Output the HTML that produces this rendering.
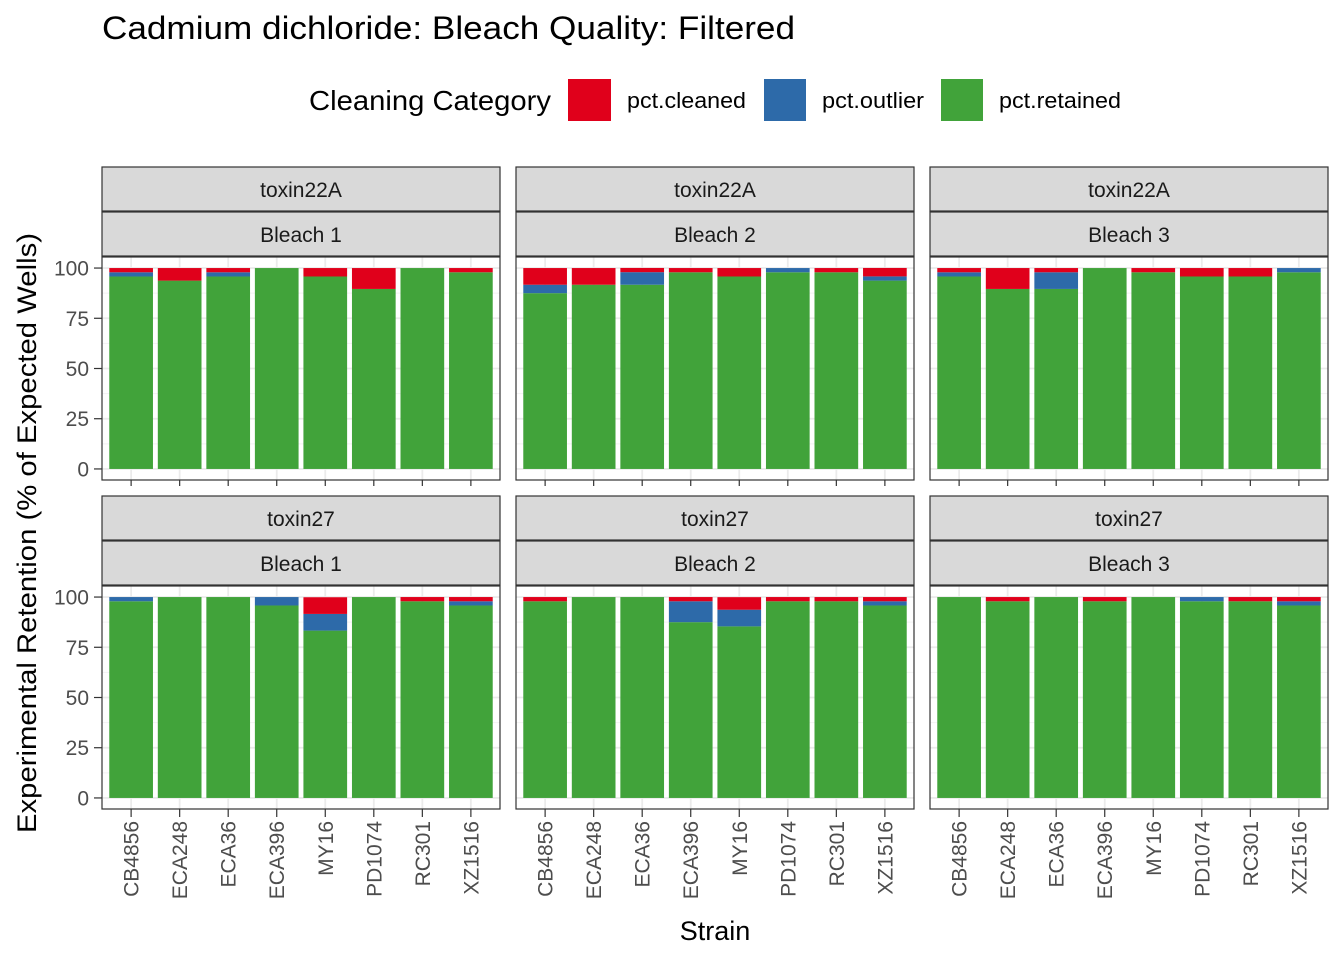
<!DOCTYPE html>
<html><head><meta charset="utf-8"><style>
body{margin:0;background:#fff;}
svg{display:block;font-family:"Liberation Sans",Arial,sans-serif;}
</style></head><body>
<svg id="chart" width="1344" height="960" xmlns="http://www.w3.org/2000/svg">
<rect width="1344" height="960" fill="#fff"/>
<text x="102" y="39" font-size="32" textLength="693" lengthAdjust="spacingAndGlyphs" fill="#000">Cadmium dichloride: Bleach Quality: Filtered</text>
<g>
<text x="309" y="110" font-size="28" textLength="242" lengthAdjust="spacingAndGlyphs" fill="#000">Cleaning Category</text>
<rect x="568" y="79" width="43" height="42" fill="#e0001b"/>
<text x="627" y="108" font-size="22" textLength="119" lengthAdjust="spacingAndGlyphs">pct.cleaned</text>
<rect x="764" y="79" width="42" height="42" fill="#2d6aa9"/>
<text x="822" y="108" font-size="22" textLength="102" lengthAdjust="spacingAndGlyphs">pct.outlier</text>
<rect x="941" y="79" width="42" height="42" fill="#41a33a"/>
<text x="999" y="108" font-size="22" textLength="122" lengthAdjust="spacingAndGlyphs">pct.retained</text>
</g>
<text x="715" y="940" font-size="27" text-anchor="middle">Strain</text>
<text transform="translate(36,533) rotate(-90)" font-size="27" text-anchor="middle" textLength="600" lengthAdjust="spacingAndGlyphs">Experimental Retention (% of Expected Wells)</text>
<g id="panels"></g>
</svg>
<script>
const strains = ["CB4856","ECA248","ECA36","ECA396","MY16","PD1074","RC301","XZ1516"];
const toxins = ["toxin22A","toxin27"];
const bleaches = ["Bleach 1","Bleach 2","Bleach 3"];
const yTicks = [0,25,50,75,100];
// [toxin][bleach][strain] values
const retained = [
 [[95.8,93.75,95.8,100,95.8,89.6,100,97.9],[87.5,91.7,91.7,97.9,95.8,97.9,97.9,93.75],[95.8,89.6,89.6,100,97.9,95.8,95.8,97.9]],
 [[97.9,100,100,95.8,83.3,100,97.9,95.8],[97.9,100,100,87.5,85.4,97.9,97.9,95.8],[100,97.9,100,97.9,100,97.9,97.9,95.8]]
];
const outlier = [
 [[2.1,0,2.1,0,0,0,0,0],[4.2,0,6.25,0,0,2.1,0,2.1],[2.1,0,8.3,0,0,0,0,2.1]],
 [[2.1,0,0,4.2,8.3,0,0,2.1],[0,0,0,10.4,8.3,0,0,2.1],[0,0,0,0,0,2.1,0,2.1]]
];
const cleaned = [
 [[2.1,6.25,2.1,0,4.2,10.4,0,2.1],[8.3,8.3,2.1,2.1,4.2,0,2.1,4.2],[2.1,10.4,2.1,0,2.1,4.2,4.2,0]],
 [[0,0,0,0,8.3,0,2.1,2.1],[2.1,0,0,2.1,6.25,2.1,2.1,2.1],[0,2.1,0,2.1,0,0,2.1,2.1]]
];
const NS="http://www.w3.org/2000/svg";
const root=document.getElementById('panels');
function mk(tag,attrs,parent){const e=document.createElementNS(NS,tag);for(const k in attrs)e.setAttribute(k,attrs[k]);(parent||root).appendChild(e);return e;}
const panelX=[102,516,930], panelW=398;
const rowTop=[257,586], panelH=223;
for(let r=0;r<2;r++){
 for(let c=0;c<3;c++){
  const x0=panelX[c], y0=rowTop[r];
  const g=mk('g',{});
  
  
  const s1=mk('rect',{x:x0,y:y0-90,width:panelW,height:44,fill:'#d9d9d9',stroke:'#333','stroke-width':1.2},g);
  
  
  const t1=mk('text',{x:x0+panelW/2,y:y0-60,'font-size':21,'text-anchor':'middle',fill:'#1a1a1a'},g);t1.textContent=toxins[r];
  
  
  const s2=mk('rect',{x:x0,y:y0-45,width:panelW,height:44,fill:'#d9d9d9',stroke:'#333','stroke-width':1.2},g);
  
  
  const t2=mk('text',{x:x0+panelW/2,y:y0-15,'font-size':21,'text-anchor':'middle',fill:'#1a1a1a'},g);t2.textContent=bleaches[c];
  
  
  const yScale=v=>y0+panelH-(v+5.5)*(panelH/111);
  const bandW=panelW/8.2;
  const xScale=i=>x0+(i+0.6)*bandW;
  for(let v=12.5;v<=100;v+=25) mk('line',{x1:x0,x2:x0+panelW,y1:yScale(v),y2:yScale(v),stroke:'#f2f2f2','stroke-width':1},g);
  yTicks.forEach(v=>mk('line',{x1:x0,x2:x0+panelW,y1:yScale(v),y2:yScale(v),stroke:'#ebebeb','stroke-width':1.8},g));
  strains.forEach((s,i)=>mk('line',{x1:xScale(i),x2:xScale(i),y1:y0,y2:y0+panelH,stroke:'#ebebeb','stroke-width':1.8},g));
  strains.forEach((s,i)=>{
   const vals=[retained[r][c][i],outlier[r][c][i],cleaned[r][c][i]];
   const cols=['#41a33a','#2d6aa9','#e0001b'];
   const names=['retained','outlier','cleaned'];
   let base=0;
   vals.forEach((v,k)=>{
    if(v<=0)return;
    const b=mk('rect',{x:xScale(i)-bandW*0.45,width:bandW*0.9,y:yScale(base+v),height:yScale(base)-yScale(base+v),fill:cols[k]},g);
    
    
    base+=v;
   });
  });
  const br=mk('rect',{x:x0,y:y0,width:panelW,height:panelH,fill:'none',stroke:'#333','stroke-width':1.2},g);
  
  
  if(c===0){
   yTicks.forEach(v=>{
    mk('line',{x1:x0-8,x2:x0,y1:yScale(v),y2:yScale(v),stroke:'#333','stroke-width':1.2},g);
    const t=mk('text',{x:x0-13,y:yScale(v)+7.5,'font-size':21,'text-anchor':'end',fill:'#4d4d4d'},g);
    t.textContent=v;
    
    
   });
  }
  if(r===1){
   strains.forEach((s,i)=>{
    mk('line',{x1:xScale(i),x2:xScale(i),y1:y0+panelH,y2:y0+panelH+8,stroke:'#333','stroke-width':1.2},g);
    const t=mk('text',{'font-size':21,'text-anchor':'end',fill:'#4d4d4d',transform:'translate('+(xScale(i)+7.5)+','+(y0+panelH+12)+') rotate(-90)'},g);
    t.textContent=s;
    
    
   });
  } else {
   strains.forEach((s,i)=>mk('line',{x1:xScale(i),x2:xScale(i),y1:y0+panelH,y2:y0+panelH+6,stroke:'#333','stroke-width':1.2},g));
  }
 }
}
</script>
</body></html>
